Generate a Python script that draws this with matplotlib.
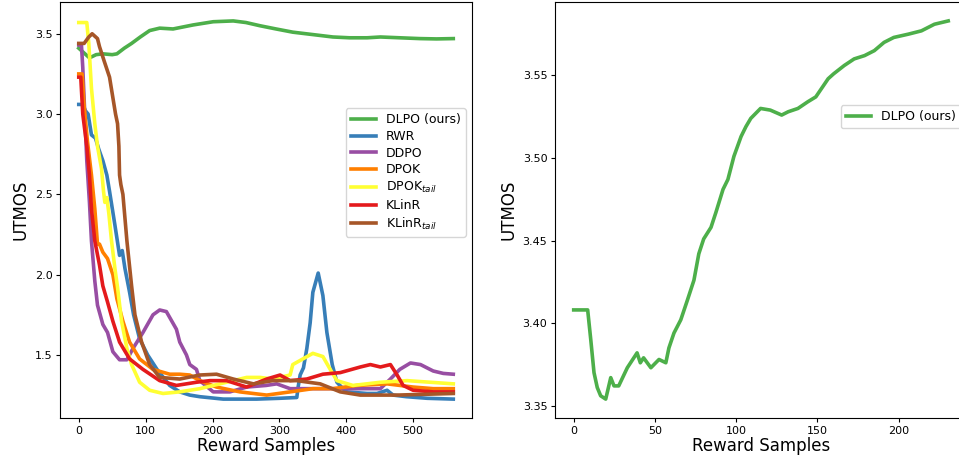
import matplotlib
matplotlib.use("Agg")
import matplotlib.pyplot as plt

# ---- left panel: UTMOS vs reward samples, all methods ----
dlpo_x = [0, 8, 16, 26, 36, 50, 57, 68, 79, 92, 106, 121, 141, 171, 201, 231, 250, 271,
          295, 320, 350, 380, 405, 431, 451, 480, 510, 535, 560]
dlpo_y = [3.41, 3.38, 3.35, 3.37, 3.375, 3.37, 3.375, 3.41, 3.44, 3.48, 3.52, 3.535, 3.53,
          3.555, 3.575, 3.58, 3.57, 3.55, 3.53, 3.51, 3.495, 3.48, 3.475, 3.475, 3.48,
          3.475, 3.47, 3.468, 3.47]

rwr_x = [0, 6, 10, 14, 19, 25, 30, 36, 42, 46, 54, 61, 65, 69, 76, 82, 91, 103, 117, 136,
         151, 166, 181, 216, 266, 300, 326, 328, 331, 336, 341, 346, 350, 354, 358, 362,
         365, 371, 379, 386, 395, 401, 431, 446, 461, 470, 490, 521, 560]
rwr_y = [3.06, 3.06, 3.02, 3.00, 2.87, 2.85, 2.78, 2.71, 2.62, 2.52, 2.31, 2.12, 2.15, 2.04,
         1.89, 1.75, 1.60, 1.50, 1.41, 1.31, 1.27, 1.25, 1.24, 1.225, 1.225, 1.23, 1.235,
         1.30, 1.375, 1.42, 1.54, 1.70, 1.89, 1.95, 2.01, 1.93, 1.87, 1.64, 1.44, 1.33,
         1.29, 1.27, 1.26, 1.26, 1.28, 1.25, 1.24, 1.23, 1.225]

ddpo_x = [0, 4, 6, 9, 12, 16, 19, 24, 28, 36, 43, 51, 61, 72, 81, 96, 111, 121, 131, 146,
          151, 161, 166, 176, 181, 201, 226, 251, 280, 296, 316, 350, 376, 420, 451, 466,
          480, 496, 511, 530, 545, 560]
ddpo_y = [3.43, 3.43, 3.29, 3.0, 2.71, 2.45, 2.21, 1.96, 1.81, 1.69, 1.64, 1.52, 1.47, 1.47,
          1.54, 1.64, 1.75, 1.78, 1.77, 1.66, 1.58, 1.50, 1.44, 1.41, 1.34, 1.27, 1.27,
          1.30, 1.31, 1.32, 1.29, 1.29, 1.29, 1.29, 1.29, 1.35, 1.41, 1.45, 1.44, 1.40,
          1.385, 1.38]

dpok_x = [0, 5, 8, 13, 19, 24, 28, 31, 36, 43, 51, 57, 66, 76, 91, 111, 136, 151, 166, 181,
          206, 241, 281, 316, 350, 380, 416, 461, 500, 530, 560]
dpok_y = [3.25, 3.25, 3.05, 2.83, 2.62, 2.41, 2.19, 2.19, 2.14, 2.10, 2.0, 1.85, 1.71, 1.58,
          1.475, 1.41, 1.38, 1.38, 1.375, 1.34, 1.30, 1.27, 1.25, 1.27, 1.29, 1.29, 1.31,
          1.32, 1.30, 1.29, 1.29]

dpok_tail_x = [0, 12, 15, 19, 24, 28, 34, 37, 39, 42, 45, 49, 54, 58, 64, 72, 79, 91, 106,
               126, 151, 181, 211, 251, 271, 290, 316, 320, 335, 350, 365, 376, 386, 410,
               451, 491, 560]
dpok_tail_y = [3.57, 3.57, 3.44, 3.16, 2.94, 2.80, 2.66, 2.52, 2.45, 2.48, 2.38, 2.21, 2.04,
               1.92, 1.71, 1.54, 1.44, 1.33, 1.28, 1.26, 1.27, 1.29, 1.32, 1.36, 1.36, 1.35,
               1.375, 1.44, 1.475, 1.51, 1.49, 1.41, 1.34, 1.31, 1.33, 1.34, 1.32]

klinr_x = [0, 3, 6, 9, 12, 16, 19, 24, 31, 36, 43, 51, 61, 76, 96, 121, 146, 176, 196, 221,
           251, 281, 301, 316, 341, 365, 391, 421, 436, 451, 466, 476, 485, 500, 530, 560]
klinr_y = [3.23, 3.23, 3.0, 2.9, 2.80, 2.62, 2.41, 2.21, 2.06, 1.93, 1.83, 1.71, 1.58,
           1.475, 1.41, 1.34, 1.31, 1.33, 1.34, 1.34, 1.30, 1.35, 1.375, 1.34, 1.35, 1.38,
           1.39, 1.425, 1.44, 1.425, 1.44, 1.375, 1.31, 1.28, 1.27, 1.27]

klinr_tail_x = [0, 8, 15, 20, 28, 31, 38, 46, 55, 58, 60, 61, 63, 66, 72, 79, 84, 94, 106,
                121, 151, 181, 206, 231, 261, 290, 326, 361, 391, 421, 476, 560]
klinr_tail_y = [3.44, 3.44, 3.48, 3.50, 3.47, 3.42, 3.33, 3.23, 3.00, 2.94, 2.80, 2.62,
                2.56, 2.50, 2.21, 1.93, 1.75, 1.58, 1.44, 1.36, 1.35, 1.375, 1.38, 1.35,
                1.32, 1.34, 1.34, 1.32, 1.27, 1.25, 1.25, 1.26]

# ---- right panel: DLPO only, zoomed in ----
dlpo_r_x = [0, 8.6, 10.5, 12.5, 14.5, 16.6, 19.7, 22.8, 24.8, 27.7, 33, 37, 39, 41, 43,
            47.5, 52.5, 56.7, 58.6, 61.7, 65.9, 70, 74, 77, 80, 84.5, 87.5, 91.9, 94.9,
            98.6, 103, 106, 109, 115, 121, 128, 132, 138, 144, 149, 156.6, 160, 166.5,
            172.6, 179, 185, 191, 197, 206, 214, 222, 230.5]
dlpo_r_y = [3.408, 3.408, 3.390, 3.370, 3.361, 3.356, 3.354, 3.367, 3.362, 3.362, 3.373,
            3.379, 3.382, 3.376, 3.379, 3.373, 3.378, 3.376, 3.385, 3.394, 3.402, 3.414,
            3.426, 3.442, 3.451, 3.458, 3.467, 3.481, 3.487, 3.501, 3.513, 3.519, 3.524,
            3.530, 3.529, 3.526, 3.528, 3.530, 3.534, 3.537, 3.548, 3.551, 3.556, 3.560,
            3.562, 3.565, 3.570, 3.573, 3.575, 3.577, 3.581, 3.583]

# Set1 colours
green = '#4daf4a'
blue = '#377eb8'
purple = '#984ea3'
orange = '#ff7f00'
yellow = '#ffff33'
red = '#e41a1c'
brown = '#a65628'
lw = 2.6

fig = plt.figure(figsize=(9.59, 4.59), dpi=100)
ax1 = fig.add_axes([0.0626, 0.0893, 0.4296, 0.9063])
ax2 = fig.add_axes([0.5787, 0.0893, 0.4296, 0.9063])

ax1.plot(dlpo_x, dlpo_y, color=green, lw=lw, label='DLPO (ours)')
ax1.plot(rwr_x, rwr_y, color=blue, lw=lw, label='RWR')
ax1.plot(ddpo_x, ddpo_y, color=purple, lw=lw, label='DDPO')
ax1.plot(dpok_x, dpok_y, color=orange, lw=lw, label='DPOK')
ax1.plot(dpok_tail_x, dpok_tail_y, color=yellow, lw=lw, label='DPOK$_{tail}$')
ax1.plot(klinr_x, klinr_y, color=red, lw=lw, label='KLinR')
ax1.plot(klinr_tail_x, klinr_tail_y, color=brown, lw=lw, label='KLinR$_{tail}$')
ax1.legend(loc='center right', bbox_to_anchor=(1.0, 0.59), fontsize=9, labelspacing=0.3)

ax2.plot(dlpo_r_x, dlpo_r_y, color=green, lw=lw, label='DLPO (ours)')
ax2.legend(loc='center right', bbox_to_anchor=(1.0, 0.724), fontsize=9)

for ax in (ax1, ax2):
    ax.set_xlabel('Reward Samples', fontsize=12, labelpad=1)
    ax.set_ylabel('UTMOS', fontsize=12)
    ax.tick_params(labelsize=8, length=3, pad=2.5)

fig.savefig('out.png', dpi=100)
